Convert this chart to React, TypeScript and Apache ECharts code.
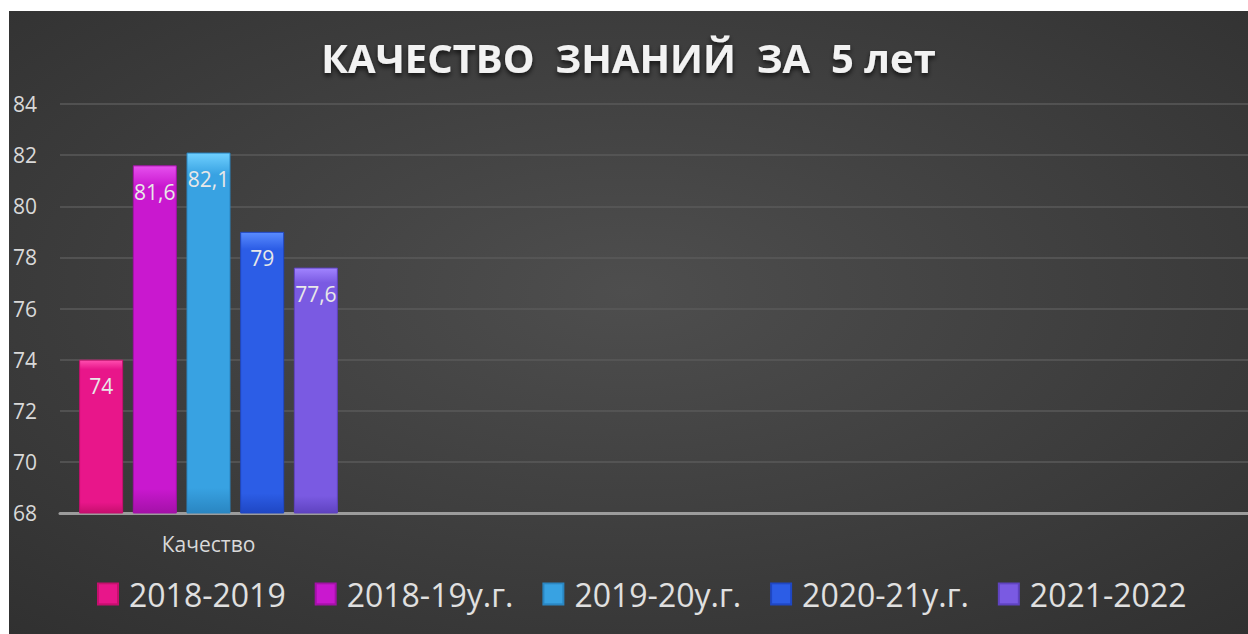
import React, { useEffect, useRef } from "react";
import * as echarts from "echarts";

const categories = ["Качество", "", "", ""];
const seriesNames = ["2018-2019", "2018-19у.г.", "2019-20у.г.", "2020-21у.г.", "2021-2022"];
const seriesValues = [74, 81.6, 82.1, 79, 77.6];
const seriesColors = ["#e8168a", "#c918cf", "#38a2e2", "#2c5de6", "#7a5ae2"];
const seriesLight = ["#ff4fb0", "#e650ee", "#6fd0ff", "#5a8cff", "#a184ff"];
const seriesDark = ["#c60f6e", "#a411a8", "#2a86c2", "#1f47c4", "#5f43c0"];
const titleText = "КАЧЕСТВО  ЗНАНИЙ  ЗА  5 лет";

export default function App() {
  const ref = useRef<HTMLDivElement>(null);
  useEffect(() => {
    document.body.style.margin = "0";
    document.body.style.overflow = "hidden";
    const chart = echarts.init(ref.current!, null, { renderer: "svg" });
    const series = seriesNames.map((name, i) => ({
      name,
      type: "bar",
      barWidth: 44,
      barGap: "22%",
      data: categories.map((c, j) => (j === 0 ? seriesValues[i] : null)),
      itemStyle: {
        color: {
          type: "linear",
          x: 0,
          y: 0,
          x2: 0,
          y2: 1,
          colorStops: [
            { offset: 0, color: seriesLight[i] },
            { offset: 0.06, color: seriesColors[i] },
            { offset: 0.93, color: seriesColors[i] },
            { offset: 1, color: seriesDark[i] },
          ],
        },
        borderColor: seriesDark[i],
        borderWidth: 1,
      },
      label: {
        show: true,
        position: "insideTop",
        distance: 16,
        color: "#e8e8e8",
        fontSize: 21,
        fontFamily: "Open Sans",
        formatter: (p: any) => String(p.value).replace(".", ","),
      },
    }));
    chart.setOption({
      animation: false,
      backgroundColor: {
        type: "radial",
        x: 0.5,
        y: 0.45,
        r: 1.05,
        colorStops: [
          { offset: 0, color: "#4e4e4e" },
          { offset: 1, color: "#242424" },
        ],
      },
      title: {
        text: titleText,
        left: "center",
        top: 21,
        textStyle: {
          color: "#f2f2f2",
          fontSize: 40,
          fontWeight: "bold",
          fontFamily: "Open Sans",
          textShadowColor: "rgba(0,0,0,0.7)",
          textShadowBlur: 5,
          textShadowOffsetY: 3,
        },
      },
      legend: {
        left: 83,
        top: 562,
        itemWidth: 20,
        itemHeight: 21,
        itemGap: 29,
        icon: "rect",
        textStyle: {
          color: "#e0e0e0",
          fontSize: 32,
          fontFamily: "Open Sans",
          padding: [0, 0, 0, 6],
        },
        data: seriesNames,
      },
      grid: { left: 51, right: -5, top: 93, bottom: 121 },
      xAxis: {
        type: "category",
        data: categories,
        axisTick: { show: false },
        axisLine: { lineStyle: { color: "#9c9c9c", width: 3 } },
        axisLabel: {
          color: "#d9d9d9",
          fontSize: 21,
          fontFamily: "Open Sans",
          margin: 20,
        },
      },
      yAxis: {
        type: "value",
        min: 68,
        max: 84,
        interval: 2,
        axisLine: { show: false },
        axisTick: { show: false },
        splitLine: { lineStyle: { color: "#5a5a5a", width: 1.5 } },
        axisLabel: {
          color: "#d9d9d9",
          fontSize: 21,
          fontFamily: "Open Sans",
          margin: 23,
        },
      },
      series,
    });
    return () => chart.dispose();
  }, []);
  return (
    <div
      ref={ref}
      style={{ position: "absolute", left: 9, top: 11, width: 1239, height: 623 }}
    />
  );
}
